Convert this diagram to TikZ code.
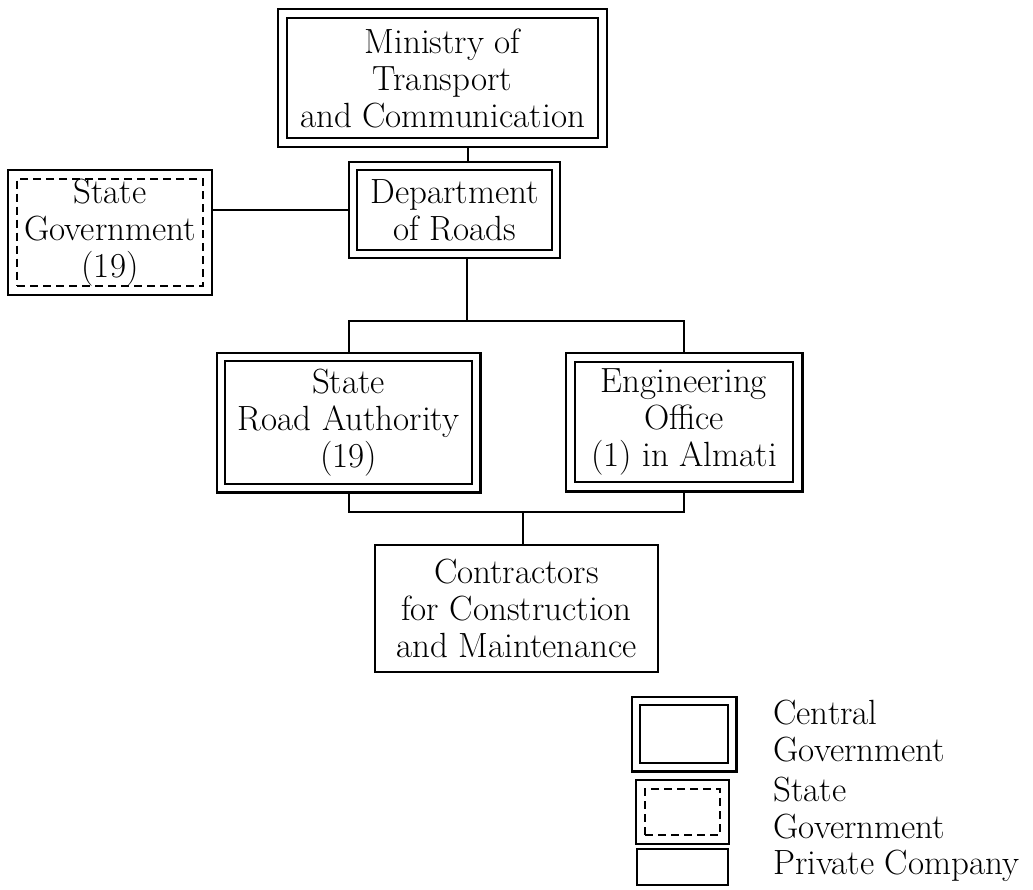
\documentclass[tikz,border=0pt]{standalone}
\usetikzlibrary{fit}
\begin{document}
\begin{tikzpicture}[x=0.5pt,y=-0.5pt,
  every node/.style={font=\fontsize{17.5}{18.5}\selectfont, inner sep=0pt},
  inbox/.style={draw, line width=0.8pt, align=center, rectangle},
  outbox/.style={draw, line width=1.1pt, inner sep=4pt, rectangle},
  dbox/.style={draw, line width=0.8pt, dash pattern=on 4pt off 2.5pt, align=center, rectangle},
  conn/.style={line width=1pt}
]
\useasboundingbox (0,0) rectangle (1033,889);

% central government boxes
\node[inbox, minimum width=155.5pt, minimum height=60pt] (min) at (442.5,78) {Ministry of\\Transport\\and Communication};
\node[outbox, fit=(min)] (minO) {};
\node[inbox, minimum width=97.5pt, minimum height=40pt] (dep) at (454.5,210) {Department\\of Roads};
\node[outbox, inner sep=3.6pt, fit=(dep)] (depO) {};
\node[inbox, minimum width=123.5pt, minimum height=61.5pt] (sra) at (348.5,422.5) {State\\Road Authority\\(19)};
\node[outbox, inner sep=3.8pt, fit=(sra)] (sraO) {};
\node[inbox, minimum width=109pt, minimum height=60pt] (eng) at (684,422) {Engineering\\Office\\(1) in Almati};
\node[outbox, inner sep=4.3pt, fit=(eng)] (engO) {};

% state government
\node[dbox, minimum width=93pt, minimum height=52.5pt] (sg) at (110,232.5) {State\\Government\\(19)};
\node[outbox, fit=(sg)] (sgO) {};

% private company
\node[inbox, minimum width=141.5pt, minimum height=63.5pt] (con) at (516.5,608.5) {Contractors\\for Construction\\and Maintenance};

% connectors
\coordinate (t1) at ([xshift=6.75pt]depO.north);
\draw[conn] (t1) -- (t1 |- minO.south);
\draw[conn] (depO.west) -- (depO.west -| sgO.east);
\coordinate (d1) at ([xshift=6.25pt]depO.south);
\coordinate (b1) at ([yshift=-31pt]d1);
\draw[conn] (d1) -- (b1);
\draw[conn] (sraO.north) |- (b1) -| (engO.north);
\coordinate (c1) at ([xshift=3.25pt]con.north);
\coordinate (b2) at ([yshift=16pt]c1);
\draw[conn] (sraO.south) |- (b2) -| (engO.south);
\draw[conn] (b2) -- (c1);

% legend
\node[inbox, minimum width=44pt, minimum height=29pt] (lc) at (684,734) {};
\node[outbox, inner sep=3.8pt, fit=(lc)] (lcO) {};
\node[dbox, minimum width=37.5pt, minimum height=23pt] (ls) at (682.5,812) {};
\node[outbox, inner sep=4pt, fit=(ls)] (lsO) {};
\node[inbox, minimum width=45.5pt, minimum height=18pt] (lp) at (682.5,867) {};
\node[anchor=west, align=left] (lt1) at (773,731) {Central\\Government};
\node[anchor=west, align=left] (lt2) at (773,808) {State\\Government};
\node[anchor=west, align=left] (lt3) at (773,866) {Private Company};
\end{tikzpicture}
\end{document}
